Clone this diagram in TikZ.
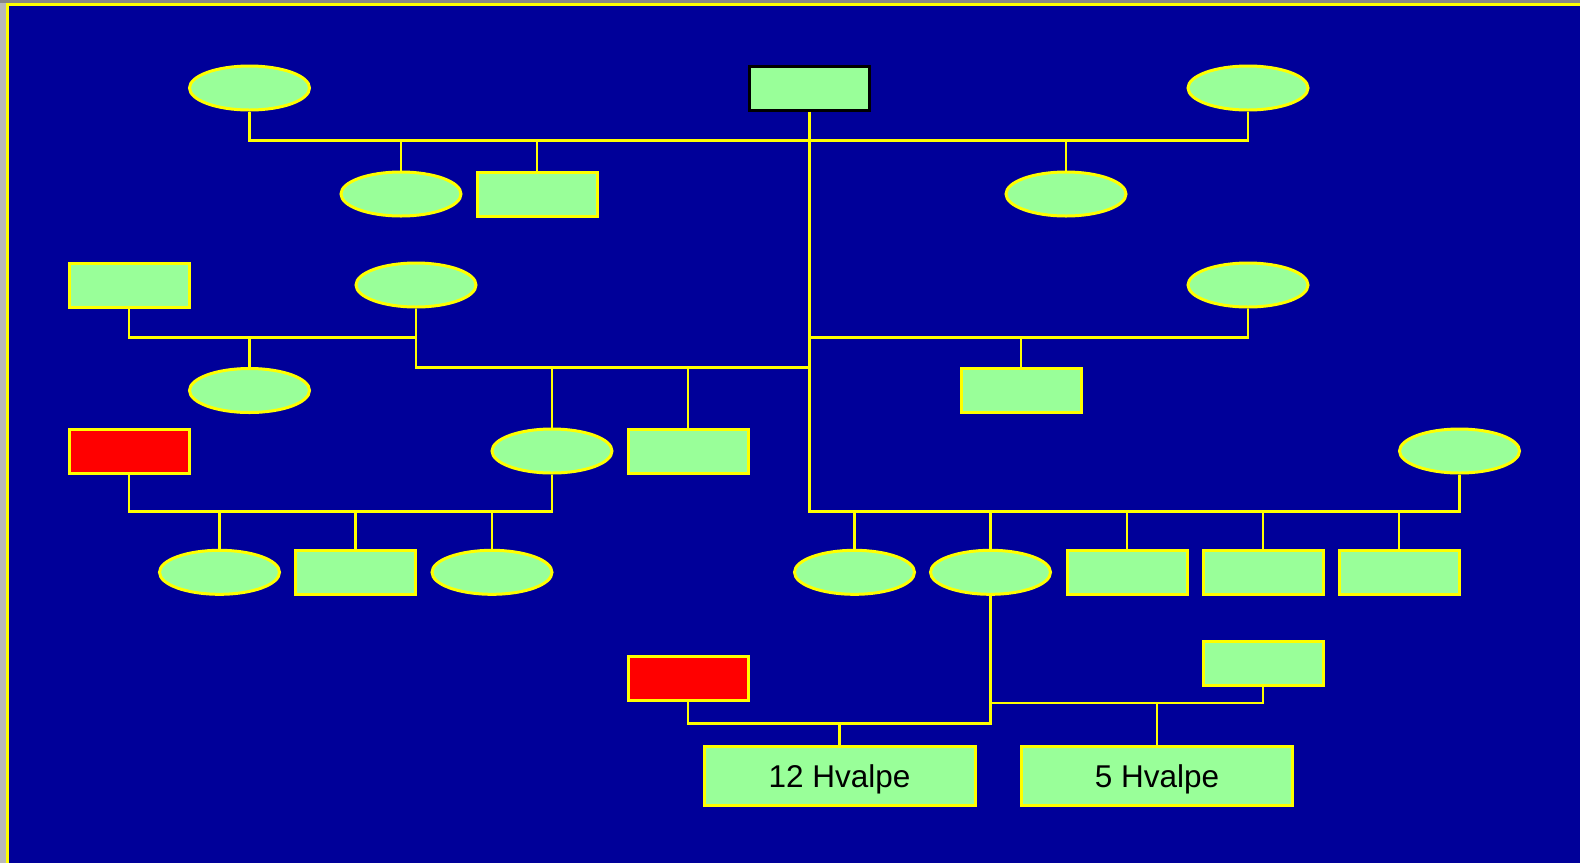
\documentclass[tikz,border=0pt]{standalone}
\usepackage{fontspec}
\setmainfont{Liberation Sans}
\usetikzlibrary{shapes.geometric}
\definecolor{bgblue}{HTML}{000099}
\definecolor{pale}{HTML}{99FF99}
\definecolor{ylw}{HTML}{FFFF00}
\definecolor{rd}{HTML}{FF0000}
\newcommand{\littertext}[1]{\raisebox{-11.5pt}[0pt][0pt]{#1}}
\begin{document}
\begin{tikzpicture}[x=1pt,y=-1pt,
  base/.style={draw=ylw, line width=3pt, fill=pale, inner sep=0pt, minimum width=120pt, minimum height=44pt},
  fem/.style={base, ellipse},
  mal/.style={base, rectangle},
  dead/.style={mal, fill=rd},
  litter/.style={mal, minimum width=271pt, minimum height=59pt, font=\fontsize{31.5}{33}\selectfont},
  link/.style={draw=ylw, line width=2.6pt}]
\useasboundingbox (0,0) rectangle (1580,863);
% background and frame
\fill[black!28] (0,0) rectangle (1580,863);
\fill[black!47] (0,0) rectangle (1580,3.3);
\fill[bgblue] (6,3.3) rectangle (1580,863);
\draw[ylw, line width=3pt] (7.5,863) -- (7.5,4.8) -- (1580,4.8);
% nodes
\node[fem] (e1) at (249.5,88) {};
\node[mal, draw=black] (rtop) at (809.5,88) {};
\node[fem] (e2) at (1248,88) {};
\node[fem] (e3) at (401,194) {};
\node[mal] (r2) at (537,194) {};
\node[fem] (e4) at (1066,194) {};
\node[mal] (r3) at (129,285) {};
\node[fem] (e5) at (416,285) {};
\node[fem] (e6) at (1248,285) {};
\node[fem] (e7) at (249.5,390.5) {};
\node[mal] (r4) at (1021,390.5) {};
\node[dead] (d1) at (129,451) {};
\node[fem] (e8) at (552,451) {};
\node[mal] (r5) at (688,451) {};
\node[fem] (e9) at (1459.5,451) {};
\node[fem] (e10) at (219.5,572.3) {};
\node[mal] (r6) at (355.5,572.3) {};
\node[fem] (e11) at (492,572.3) {};
\node[fem] (e12) at (854.5,572.3) {};
\node[fem] (e13) at (990.5,572.3) {};
\node[mal] (r7) at (1127,572.3) {};
\node[mal] (r8) at (1263,572.3) {};
\node[mal] (r9) at (1399,572.3) {};
\node[dead] (d2) at (688,678) {};
\node[mal] (r10) at (1263,663) {};
\node[litter] (t1) at (839.5,776) {\littertext{12 Hvalpe}};
\node[litter] (t2) at (1157,776) {\littertext{5 Hvalpe}};
% bar levels
\coordinate (ba) at (0,140.7);
\coordinate (bb) at (0,337.3);
\coordinate (bc) at (0,367.5);
\coordinate (bd) at (0,511.3);
\coordinate (be) at (0,723.3);
\coordinate (bf) at (0,703);
\coordinate (trunkb) at (rtop.south |- bb);
% connectors
\draw[link] (e1.south) |- (ba -| e2.south) -- (e2.south);
\draw[link] (e3.north) -- (e3.north |- ba);
\draw[link] (r2.north) -- (r2.north |- ba);
\draw[link] (e4.north) -- (e4.north |- ba);
\draw[link] (rtop.south) -- (rtop.south |- bd) -- (bd -| e9.south) -- (e9.south);
\draw[link] (trunkb) -- (bb -| e6.south) -- (e6.south);
\draw[link] (r4.north) -- (r4.north |- bb);
\draw[link] (r3.south) |- (bb -| e5.south) -- (e5.south);
\draw[link] (e7.north) -- (e7.north |- bb);
\draw[link] (e5.south) |- (bc -| rtop.south);
\draw[link] (e8.north) -- (e8.north |- bc);
\draw[link] (r5.north) -- (r5.north |- bc);
\draw[link] (d1.south) |- (bd -| e8.south) -- (e8.south);
\foreach \c in {e10,r6,e11,e12,e13,r7,r8,r9}
  \draw[link] (\c.north) -- (\c.north |- bd);
\draw[link] (d2.south) |- (be -| e13.south) -- (e13.south);
\draw[link] (t1.north) -- (t1.north |- be);
\draw[link] (r10.south) |- (bf -| e13.south);
\draw[link] (t2.north) -- (t2.north |- bf);
\end{tikzpicture}
\end{document}
